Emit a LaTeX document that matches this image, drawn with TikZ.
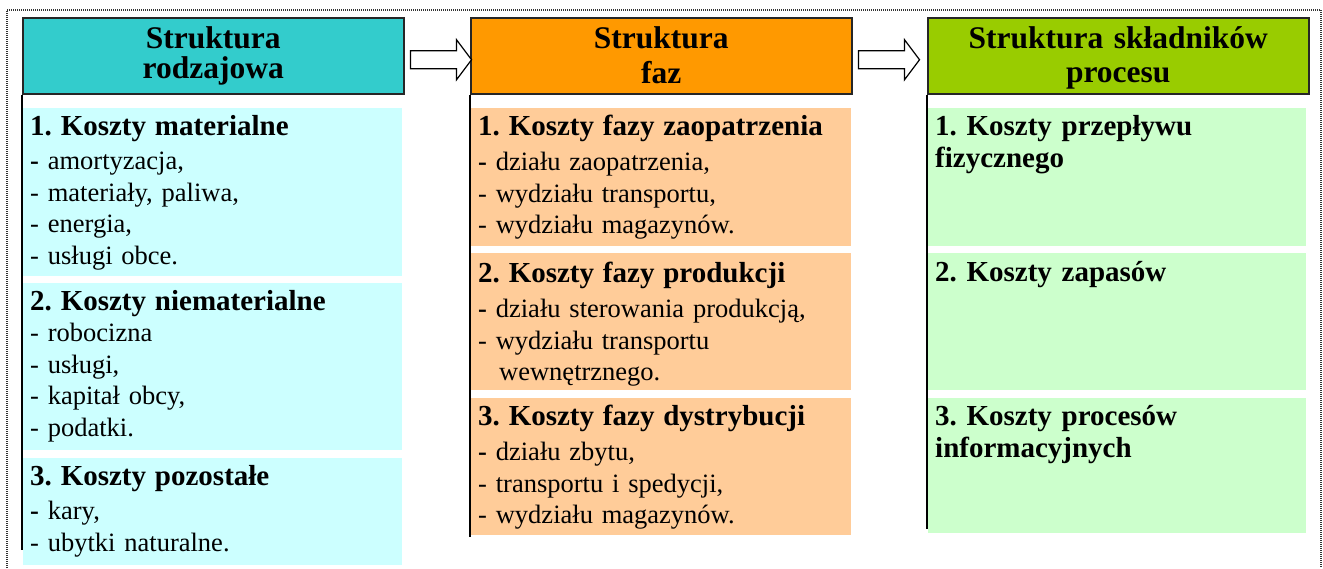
\documentclass[tikz,border=0pt]{standalone}
\usepackage{fontspec}
\setmainfont{Liberation Serif}
\usetikzlibrary{positioning, calc}

\definecolor{hdcyan}{HTML}{33CCCC}
\definecolor{hdorange}{HTML}{FF9900}
\definecolor{hdgreen}{HTML}{99CC00}
\definecolor{bxcyan}{HTML}{CCFFFF}
\definecolor{bxorange}{HTML}{FFCC99}
\definecolor{bxgreen}{HTML}{CCFFCC}
\newcommand{\titlefont}{\fontsize{29}{31.5}\selectfont\bfseries}
\frenchspacing

\begin{document}
\begin{tikzpicture}[
			x=1pt,
			y=-1pt,
			hdbox/.style={
				draw=black!85,
				line width=1.5pt,
				anchor=north west,
				inner sep=0pt,
				minimum width=381pt,
				minimum height=76pt
			},
			hdtext/.style={
				anchor=base,
				inner sep=0pt,
				text width=370pt,
				align=center
			},
			costbox/.style={
				anchor=north west,
				inner sep=0pt
			},
			costtext/.style={
				anchor=base west,
				inner sep=0pt,
				text width=370pt,
				align=left,
				font=\fontsize{26.5}{31.5}\selectfont
			},
			costhead/.style={
				costtext,
				font=\fontsize{29}{32}\selectfont\bfseries
			},
			colline/.style={
				draw=black,
				line width=2pt
			},
			blockarrow/.style={
				draw=black,
				fill=white,
				line width=1.2pt,
				line join=miter
			},
			frame/.style={
				draw=black!80,
				line width=1.5pt,
				dash pattern=on 1pt off 1pt
			}
			]
			\useasboundingbox (0,0) rectangle (1323,568);
			% Frame
			\draw[frame] (7,568) -- (7,10) -- (1321,10) -- (1321,568);
			% Column 1
			\node[costbox, fill=bxcyan, minimum width=379pt, minimum height=168pt] (b11) at (23,108) {};
			\node[costbox, fill=bxcyan, minimum width=379pt, minimum height=167pt] (b12) at (23,283) {};
			\node[costbox, fill=bxcyan, minimum width=379pt, minimum height=107pt] (b13) at (23,458) {};
			\node[costtext] (t11) at ($(b11.north west)+(7,27)$) {{\titlefont 1. Koszty materialne}\\[3pt]
				\textbf{-} amortyzacja,\\- materiały, paliwa,\\- energia,\\- usługi obce.};
			\node[costtext] (t12) at ($(b12.north west)+(7,27)$) {{\titlefont 2. Koszty niematerialne}\\[0pt]
				- robocizna\\- usługi,\\- kapitał obcy,\\- podatki.};
			\node[costtext] (t13) at ($(b13.north west)+(7,27)$) {{\titlefont 3. Koszty pozostałe}\\[3pt]
				\textbf{-} kary,\\- ubytki naturalne.};
			% Column 2
			\node[costbox, fill=bxorange, minimum width=380pt, minimum height=138pt] (b21) at (471,108) {};
			\node[costbox, fill=bxorange, minimum width=380pt, minimum height=137pt] (b22) at (471,253) {};
			\node[costbox, fill=bxorange, minimum width=380pt, minimum height=137pt] (b23) at (471,398) {};
			\node[costtext] (t21) at ($(b21.north west)+(7,27)$) {{\titlefont 1. Koszty fazy zaopatrzenia}\\[4pt]
				\textbf{-} działu zaopatrzenia,\\- wydziału transportu,\\- wydziału magazynów.};
			\node[costtext] (t22) at ($(b22.north west)+(7,29)$) {{\titlefont 2. Koszty fazy produkcji}\\[4pt]
				\textbf{-} działu sterowania produkcją,\\- wydziału transportu\\\hspace*{21pt}wewnętrznego.};
			\node[costtext] (t23) at ($(b23.north west)+(7,27)$) {{\titlefont 3. Koszty fazy dystrybucji}\\[4pt]
				\textbf{-} działu zbytu,\\- transportu i spedycji,\\- wydziału magazynów.};
			% Column 3
			\node[costbox, fill=bxgreen, minimum width=378pt, minimum height=138pt] (b31) at (928,108) {};
			\node[costbox, fill=bxgreen, minimum width=378pt, minimum height=137pt] (b32) at (928,253) {};
			\node[costbox, fill=bxgreen, minimum width=378pt, minimum height=135pt] (b33) at (928,398) {};
			\node[costhead] (t31) at ($(b31.north west)+(7,27)$) {1. Koszty przepływu\\fizycznego};
			\node[costhead] (t32) at ($(b32.north west)+(7,28)$) {2. Koszty zapasów};
			\node[costhead] (t33) at ($(b33.north west)+(7,27)$) {3. Koszty procesów\\informacyjnych};
			% Headers
			\node[hdbox, fill=hdcyan] (h1) at (22,17) {};
			\node[hdbox, fill=hdorange] (h2) at (470,17) {};
			\node[hdbox, fill=hdgreen] (h3) at (927,17) {};
			\node[hdtext, font=\fontsize{31.5}{30}\selectfont\bfseries] (ht1) at ($(h1.north)+(0,31)$) {Struktura\\rodzajowa};
			\node[hdtext, font=\fontsize{31.5}{35}\selectfont\bfseries] (ht2) at ($(h2.north)+(0,31)$) {Struktura\\faz};
			\node[hdtext, font=\fontsize{31.5}{34}\selectfont\bfseries] (ht3) at ($(h3.north)+(0,31)$) {Struktura składników\\procesu};
			% Column lines
			\draw[colline] (h1.south west) -- ++(0,455);
			\draw[colline] (h2.south west) -- ++(0,442);
			\draw[colline] (h3.south west) -- ++(0,434);
			% Arrows
			\draw[blockarrow] ($(h1.east)+(6,-5)$) -- ++(46,0) -- ++(0,-11) -- ++(15,20) -- ++(-15,20) -- ++(0,-11) -- ++(-46,0) -- cycle;
			\draw[blockarrow] ($(h2.east)+(6,-5)$) -- ++(46,0) -- ++(0,-11) -- ++(15,20) -- ++(-15,20) -- ++(0,-11) -- ++(-46,0) -- cycle;
		\end{tikzpicture}
\end{document}
